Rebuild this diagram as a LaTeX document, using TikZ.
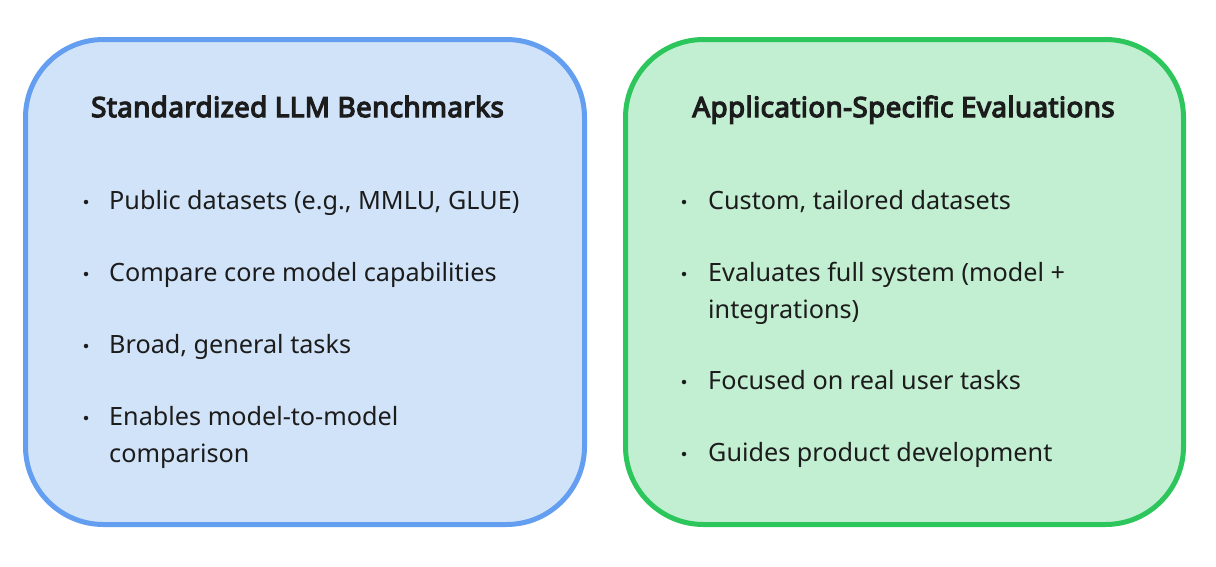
\documentclass[tikz,border=0pt]{standalone}
\usepackage{fontspec}
\setmainfont{Noto Sans}
\newfontfamily\titlefont{Noto Sans}[FakeBold=4.5,LetterSpace=1.4]
\definecolor{bluefill}{HTML}{D1E3F9}
\definecolor{blueline}{HTML}{639EF0}
\definecolor{greenfill}{HTML}{C2EED2}
\definecolor{greenline}{HTML}{2CC65C}
\definecolor{ink}{HTML}{1C1C1C}
\tikzset{
  panel/.style={line width=5pt, rounded corners=78pt},
  titletext/.style={anchor=base, inner sep=0pt, text=ink, font=\titlefont\fontsize{27.8}{34}\selectfont},
  itemtext/.style={anchor=base west, inner sep=0pt, text=ink, font=\fontsize{25.2}{30}\selectfont},
  dot/.style={circle, fill=ink, inner sep=0pt, minimum size=4.5pt}
}
\begin{document}
\begin{tikzpicture}[x=1pt,y=-1pt]
\useasboundingbox (0,0) rectangle (1216,566);
% panels
\draw[panel, draw=blueline, fill=bluefill] (25.5,39.5) rectangle (584.5,524.5);
\draw[panel, draw=greenline, fill=greenfill] (625.5,39.5) rectangle (1183.5,524.5);
% titles
\node[titletext] (t1) at (297.5,117) {Standardized LLM Benchmarks};
\node[titletext] (t2) at (903.5,117) {Application-Specific Evaluations};
% left items
\node[dot] (b1) at (86,202) {};
\node[itemtext] (l1) at (109,209) {Public datasets (e.g., MMLU, GLUE)};
\node[dot] (b2) at (86,274) {};
\node[itemtext] (l2) at (109,281) {Compare core model capabilities};
\node[dot] (b3) at (86,346) {};
\node[itemtext] (l3) at (109,353) {Broad, general tasks};
\node[dot] (b4) at (86,418) {};
\node[itemtext] (l4) at (109,425) {Enables model-to-model};
\node[itemtext] (l4b) at (109,462) {comparison};
% right items
\node[dot] (c1) at (684,202) {};
\node[itemtext] (r1) at (708,209) {Custom, tailored datasets};
\node[dot] (c2) at (684,274) {};
\node[itemtext] (r2) at (708,281) {Evaluates full system (model +};
\node[itemtext] (r2b) at (708,318) {integrations)};
\node[dot] (c3) at (684,382) {};
\node[itemtext] (r3) at (708,389) {Focused on real user tasks};
\node[dot] (c4) at (684,454) {};
\node[itemtext] (r4) at (708,461) {Guides product development};
\end{tikzpicture}
\end{document}
